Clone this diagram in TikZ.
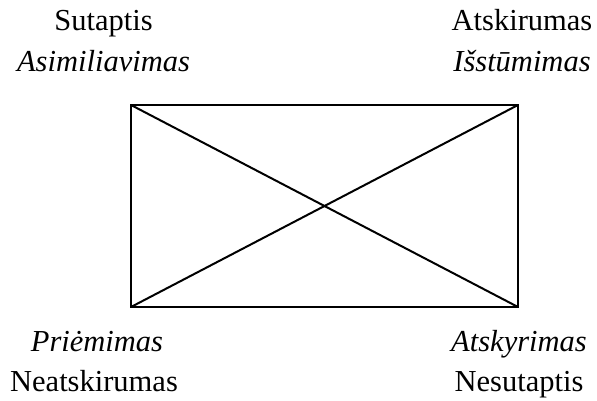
\documentclass[tikz,border=0pt]{standalone}
\usepackage{fontspec}
\setmainfont{Liberation Serif}
\begin{document}
\begin{tikzpicture}[x=1pt,y=1pt,
  lbl/.style={inner sep=0pt,anchor=base,font=\fontsize{30.5}{33}\selectfont},
  ilbl/.style={lbl,font=\fontsize{30.5}{33}\selectfont\itshape},
  edge/.style={line width=2pt}]
\useasboundingbox (0,0) rectangle (597,400);
\coordinate (TL) at (131,295);
\coordinate (TR) at (518,295);
\coordinate (BL) at (131,93);
\coordinate (BR) at (518,93);
\draw[edge] (TL) -- (TR) -- (BR) -- (BL) -- cycle;
\draw[edge] (TL) -- (BR);
\draw[edge] (TR) -- (BL);
\node[lbl] (s1) at (103.5,369) {Sutaptis};
\node[ilbl] (s2) at (103.5,328) {Asimiliavimas};
\node[lbl] (a1) at (522,369) {Atskirumas};
\node[ilbl] (a2) at (522,328) {Išstūmimas};
\node[ilbl] (p1) at (97,49) {Priėmimas};
\node[lbl] (p2) at (94,9) {Neatskirumas};
\node[ilbl] (b1) at (519,49) {Atskyrimas};
\node[lbl] (b2) at (519,9) {Nesutaptis};
\end{tikzpicture}
\end{document}
